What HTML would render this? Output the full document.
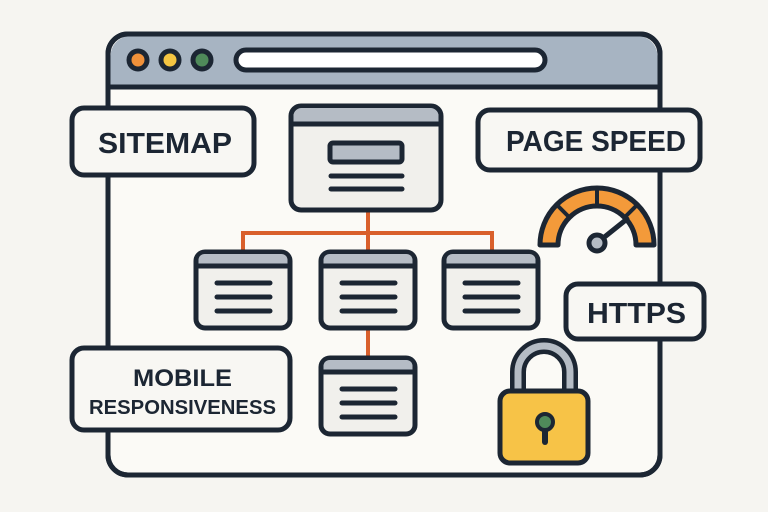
<!DOCTYPE html>
<html><head><meta charset="utf-8"><style>
html,body{margin:0;padding:0;background:#f6f5f1;}
svg{display:block;}
text{font-family:"Liberation Sans",sans-serif;font-weight:bold;fill:#1c2633;}
</style></head><body>
<svg width="768" height="512" viewBox="0 0 768 512">
<rect width="768" height="512" fill="#f6f5f1"/>
<!-- browser -->
<rect x="108" y="34" width="552" height="441" rx="20" fill="#fbfaf6" stroke="#1c2633" stroke-width="5"/>
<path d="M110.5 87 V56 a20 20 0 0 1 20 -20 H637.5 a20 20 0 0 1 20 20 V87 Z" fill="#a7b4c2"/>
<line x1="108" y1="87" x2="660" y2="87" stroke="#1c2633" stroke-width="5"/>
<rect x="108" y="34" width="552" height="441" rx="20" fill="none" stroke="#1c2633" stroke-width="5"/>
<circle cx="138" cy="60" r="9" fill="#f0913a" stroke="#1c2633" stroke-width="5"/>
<circle cx="170" cy="60" r="9" fill="#f4c542" stroke="#1c2633" stroke-width="5"/>
<circle cx="202" cy="60" r="9" fill="#4f8a5a" stroke="#1c2633" stroke-width="5"/>
<rect x="236" y="50" width="309" height="20" rx="10" fill="#fff" stroke="#1c2633" stroke-width="5"/>
<!-- connectors -->
<g stroke="#d9602c" stroke-width="4" fill="none">
<line x1="368" y1="210" x2="368" y2="255"/>
<polyline points="243,255 243,233 492,233 492,255"/>
<line x1="368" y1="328" x2="368" y2="357"/>
</g>
<!-- top page -->
<g stroke="#1c2633" stroke-width="5">
<rect x="291" y="106" width="150" height="104" rx="10" fill="#f1f0ec"/>
<path d="M293.5 124 V116 a8 8 0 0 1 8 -8 H430.5 a8 8 0 0 1 8 8 V124 Z" fill="#b5bcc5" stroke="none"/>
<line x1="291" y1="124" x2="441" y2="124"/>
<rect x="330" y="143" width="72" height="19" rx="3" fill="#b5bcc5"/>
<line x1="331" y1="176" x2="402" y2="176" stroke-linecap="round"/>
<line x1="331" y1="189" x2="402" y2="189" stroke-linecap="round"/>
</g>
<!-- child pages -->
<g stroke="#1c2633" stroke-width="5">
<g id="c1">
<rect x="196" y="252" width="94" height="76" rx="9" fill="#f1f0ec"/>
<path d="M198.5 266 V260 a6 6 0 0 1 6 -6 H281.5 a6 6 0 0 1 6 6 V266 Z" fill="#b5bcc5" stroke="none"/>
<line x1="196" y1="266" x2="290" y2="266"/>
<line x1="217" y1="283" x2="270" y2="283" stroke-linecap="round"/>
<line x1="217" y1="297" x2="270" y2="297" stroke-linecap="round"/>
<line x1="217" y1="311" x2="270" y2="311" stroke-linecap="round"/>
</g>
<use href="#c1" x="125" y="0"/>
<use href="#c1" x="248" y="0"/>
<use href="#c1" x="125" y="106"/>
</g>
<!-- labels -->
<g stroke="#1c2633" stroke-width="5" fill="#f8f7f3">
<rect x="72" y="108" width="182" height="67" rx="12"/>
<rect x="478" y="110" width="222" height="60" rx="12"/>
<rect x="566" y="284" width="138" height="55" rx="12"/>
<rect x="72" y="348" width="218" height="82" rx="12"/>
</g>
<text x="98" y="153" font-size="29" textLength="134" lengthAdjust="spacingAndGlyphs">SITEMAP</text>
<text x="506" y="151" font-size="29" textLength="180" lengthAdjust="spacingAndGlyphs">PAGE SPEED</text>
<text x="587" y="323" font-size="29" textLength="99" lengthAdjust="spacingAndGlyphs">HTTPS</text>
<text x="133" y="386" font-size="24" textLength="99" lengthAdjust="spacingAndGlyphs">MOBILE</text>
<text x="89" y="414" font-size="20" textLength="187" lengthAdjust="spacingAndGlyphs">RESPONSIVENESS</text>
<!-- gauge -->
<path d="M540 245 A57 57 0 0 1 654 245 L636 245 A39 39 0 0 0 558 245 Z" fill="#f39a3a" stroke="#1c2633" stroke-width="5" stroke-linejoin="round"/>
<g stroke="#1c2633" stroke-width="4">
<line x1="597" y1="188" x2="597" y2="206"/>
<line x1="557" y1="205" x2="569" y2="217"/>
<line x1="637" y1="205" x2="625" y2="217"/>
</g>
<line x1="597" y1="243" x2="627" y2="219" stroke="#1c2633" stroke-width="5" stroke-linecap="round"/>
<circle cx="597" cy="243" r="8" fill="#b5bcc5" stroke="#1c2633" stroke-width="5"/>
<!-- lock -->
<path d="M518 392 V372 a26 26 0 0 1 52 0 V392" fill="none" stroke="#1c2633" stroke-width="16"/>
<path d="M518 392 V372 a26 26 0 0 1 52 0 V392" fill="none" stroke="#b5bcc5" stroke-width="7"/>
<rect x="500" y="391" width="88" height="72" rx="10" fill="#f7c347" stroke="#1c2633" stroke-width="5"/>
<line x1="545" y1="425" x2="545" y2="442" stroke="#1c2633" stroke-width="6" stroke-linecap="round"/>
<circle cx="545" cy="422" r="8" fill="#4f8a5a" stroke="#1c2633" stroke-width="4"/>
</svg>
</body></html>
